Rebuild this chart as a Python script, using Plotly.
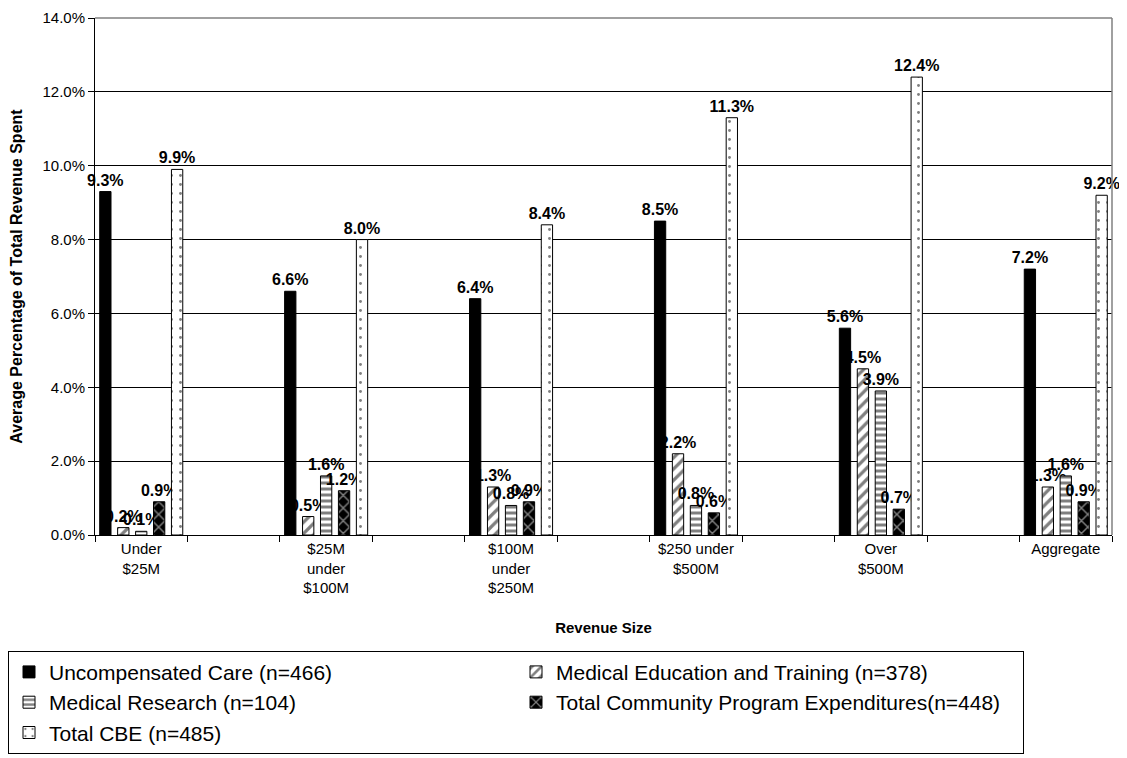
import plotly.graph_objects as go

categories = ['Under<br>$25M', ' ', '$25M<br>under<br>$100M', '  ', '$100M<br>under<br>$250M', '   ',
              '$250 under<br>$500M', '    ', 'Over<br>$500M', '     ', 'Aggregate']
groups = ['Under<br>$25M', '$25M<br>under<br>$100M', '$100M<br>under<br>$250M',
          '$250 under<br>$500M', 'Over<br>$500M', 'Aggregate']

uncompensated = [9.3, 6.6, 6.4, 8.5, 5.6, 7.2]
med_education = [0.2, 0.5, 1.3, 2.2, 4.5, 1.3]
med_research = [0.1, 1.6, 0.8, 0.8, 3.9, 1.6]
community = [0.9, 1.2, 0.9, 0.6, 0.7, 0.9]
total_cbe = [9.9, 8.0, 8.4, 11.3, 12.4, 9.2]

series = [
    ('Uncompensated Care (n=466)', uncompensated, dict(color='black')),
    ('Medical Education and Training (n=378)', med_education,
     dict(color='white', pattern=dict(shape='/', fgcolor='black', bgcolor='white', size=8, solidity=0.4))),
    ('Medical Research (n=104)', med_research,
     dict(color='white', pattern=dict(shape='-', fgcolor='black', bgcolor='white', size=6, solidity=0.5))),
    ('Total Community Program Expenditures(n=448)', community,
     dict(color='black', pattern=dict(shape='x', fgcolor='white', bgcolor='black', size=9, solidity=0.3))),
    ('Total CBE (n=485)', total_cbe,
     dict(color='white', pattern=dict(shape='.', fgcolor='black', bgcolor='white', size=9, solidity=0.08))),
]

fig = go.Figure()
# invisible trace so the blank spacer categories exist on the axis
fig.add_trace(go.Scatter(x=categories, y=[None] * len(categories), showlegend=False,
                         hoverinfo='skip', mode='markers'))
for name, vals, marker in series:
    marker['line'] = dict(color='black', width=1)
    fig.add_trace(go.Bar(
        x=groups, y=vals, name=name, marker=marker,
        texttemplate='%{y:.1f}%', textposition='outside', constraintext='none',
        cliponaxis=False,
        textfont=dict(family='Arial, Liberation Sans', size=16, color='black', weight='bold'),
    ))

# page body has an 8px margin, so the figure is 8px smaller and shifted
fig.update_layout(
    width=1119, height=750,
    margin=dict(l=87, r=15, t=10, b=223),
    plot_bgcolor='white', paper_bgcolor='white',
    barmode='group', bargap=0.03, bargroupgap=0.37,
    font=dict(family='Arial, Liberation Sans', size=15, color='black'),
    legend=dict(orientation='h', xref='container', yref='container', x=0.0, y=0.143,
                xanchor='left', yanchor='top', entrywidth=462, itemwidth=30,
                font=dict(size=21), bordercolor='black', borderwidth=1,
                itemclick=False, tracegroupgap=0),
    shapes=[dict(type='line', xref='paper', yref='paper', x0=1, x1=1, y0=0, y1=1,
                 line=dict(color='#808080', width=1.5)),
            dict(type='line', xref='paper', yref='paper', x0=0, x1=1, y0=1, y1=1,
                 line=dict(color='#808080', width=1.5))],
    annotations=[dict(text='<b>Average Percentage of Total Revenue Spent</b>', textangle=-90,
                      xref='paper', yref='paper', x=-0.0775, y=0.5, xanchor='center', yanchor='middle',
                      showarrow=False, font=dict(size=16))],
)
fig.update_xaxes(
    type='category', categoryorder='array', categoryarray=categories,
    range=[-0.5, 10.5], tickson='boundaries', ticks='outside', ticklen=6,
    tickcolor='black', showline=True, linecolor='black', linewidth=1,
    showgrid=False, automargin=False,
    title=dict(text='<b>Revenue Size</b>', font=dict(size=15), standoff=27),
)
fig.update_yaxes(
    range=[0, 14], dtick=2, tickformat='.1f', ticksuffix='%',
    ticks='outside', ticklen=6, tickcolor='black', ticklabeloverflow='allow',
    showline=True, linecolor='black', linewidth=1, automargin=False,
    showgrid=True, gridcolor='black', gridwidth=1, zeroline=False,
)

fig.write_html('out.html')
